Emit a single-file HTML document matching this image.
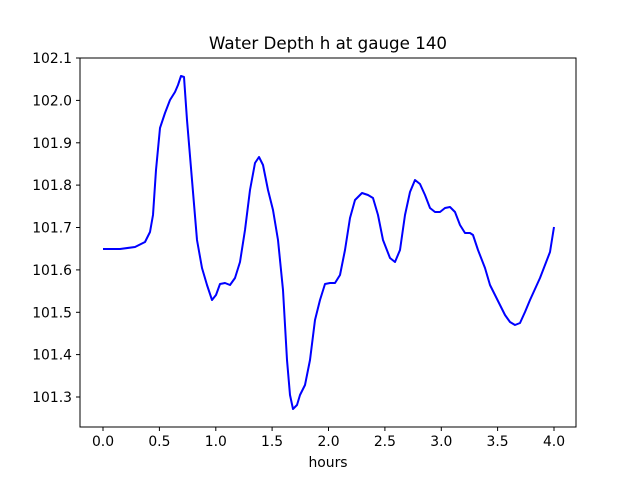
<!DOCTYPE html>
<html><head><meta charset="utf-8"><style>body{margin:0;background:#fff}</style></head>
<body>
<svg width="640" height="480" xmlns="http://www.w3.org/2000/svg" font-family="DejaVu Sans, sans-serif">
<rect width="640" height="480" fill="#fff"/>
<text x="328" y="49" font-size="16.7" text-anchor="middle">Water Depth h at gauge 140</text>
<polyline fill="none" stroke="#0000ff" stroke-width="2" stroke-linejoin="round" points="103,249 120,249 135,247 145,242 150,232 153,215 156,170 160,128 165,113 170,100 175,92 178,85 181,76 184,77 187,120 192,180 197,240 202,268 207,285 212,300 216,295 220,284 225,283 230,285 235,278 240,262 245,230 250,190 255,163 259,157 263,165 268,190 273,210 278,240 283,290 287,360 290,395 293,409 297,405 300,395 305,385 310,360 315,320 320,300 325,284 330,283 335,283 340,275 345,250 350,218 355,200 362,193 368,195 373,198 378,215 383,240 390,258 395,262 400,250 405,215 410,192 415,180 420,184 425,195 430,208 435,212 440,212 445,208 450,207 455,212 460,225 465,233 470,233 473,235 478,250 485,268 490,285 495,295 500,305 505,315 510,322 515,325 520,323 525,312 530,300 540,278 550,252 554,227"/>
<rect x="80" y="58" width="496" height="369" fill="none" stroke="#000" stroke-width="1"/>
<g stroke="#000" stroke-width="1">
<line x1="103" y1="427" x2="103" y2="431"/><line x1="159.4" y1="427" x2="159.4" y2="431"/><line x1="215.8" y1="427" x2="215.8" y2="431"/><line x1="272.1" y1="427" x2="272.1" y2="431"/><line x1="328.5" y1="427" x2="328.5" y2="431"/><line x1="384.9" y1="427" x2="384.9" y2="431"/><line x1="441.3" y1="427" x2="441.3" y2="431"/><line x1="497.6" y1="427" x2="497.6" y2="431"/><line x1="554" y1="427" x2="554" y2="431"/>
<line x1="76" y1="58" x2="80" y2="58"/><line x1="76" y1="100.4" x2="80" y2="100.4"/><line x1="76" y1="142.8" x2="80" y2="142.8"/><line x1="76" y1="185.1" x2="80" y2="185.1"/><line x1="76" y1="227.5" x2="80" y2="227.5"/><line x1="76" y1="269.9" x2="80" y2="269.9"/><line x1="76" y1="312.3" x2="80" y2="312.3"/><line x1="76" y1="354.6" x2="80" y2="354.6"/><line x1="76" y1="397" x2="76" y2="397"/><line x1="76" y1="397" x2="80" y2="397"/>
</g>
<g font-size="13.9" text-anchor="middle">
<text x="103" y="446">0.0</text><text x="159.4" y="446">0.5</text><text x="215.8" y="446">1.0</text><text x="272.1" y="446">1.5</text><text x="328.5" y="446">2.0</text><text x="384.9" y="446">2.5</text><text x="441.3" y="446">3.0</text><text x="497.6" y="446">3.5</text><text x="554" y="446">4.0</text>
<text x="328" y="467">hours</text>
</g>
<g font-size="13.9" text-anchor="end">
<text x="72" y="63">102.1</text><text x="72" y="105.4">102.0</text><text x="72" y="147.8">101.9</text><text x="72" y="190.1">101.8</text><text x="72" y="232.5">101.7</text><text x="72" y="274.9">101.6</text><text x="72" y="317.3">101.5</text><text x="72" y="359.6">101.4</text><text x="72" y="402">101.3</text>
</g>
</svg>
</body></html>
